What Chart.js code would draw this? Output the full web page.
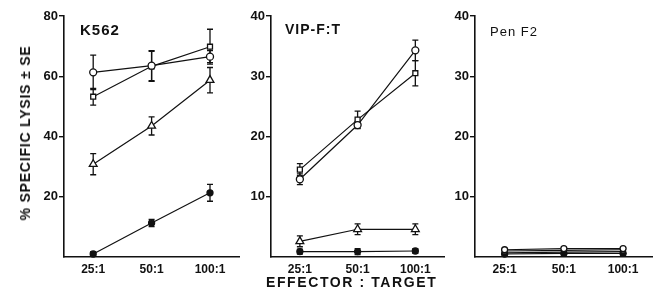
<!DOCTYPE html>
<html>
<head>
<meta charset="utf-8">
<script src="https://cdn.jsdelivr.net/npm/chart.js@4"></script>
<style>
  body { margin: 0; background: #fff; }
  #wrap { position: relative; width: 658px; height: 298px; overflow: hidden; font-family: "Liberation Sans", Arial, sans-serif; color: #111; }
  canvas { position: absolute; top: 0; }
  .lbl { position: absolute; font-weight: bold; white-space: nowrap; }
</style>
</head>
<body>
<div id="wrap">
  <canvas id="c1" width="245" height="298" style="left:0"></canvas>
  <canvas id="c2" width="205" height="298" style="left:245px"></canvas>
  <canvas id="c3" width="208" height="298" style="left:450px"></canvas>
  <div class="lbl" style="left:80px;top:21px;font-size:15px;letter-spacing:1px">K562</div>
  <div class="lbl" style="left:285px;top:21px;font-size:14px;letter-spacing:1px">VIP-F:T</div>
  <div class="lbl" style="left:490px;top:24px;font-size:13px;font-weight:normal;letter-spacing:1px">Pen F2</div>
  <div class="lbl" style="left:266px;top:274px;font-size:14px;letter-spacing:1.6px">EFFECTOR : TARGET</div>
  <div class="lbl" style="left:25px;top:133px;font-size:14px;letter-spacing:0.8px;transform:translate(-50%,-50%) rotate(-90deg)">% SPECIFIC LYSIS ± SE</div>
</div>
<script>
const ratios = ['25:1', '50:1', '100:1'];

// K562
const k562Open = [61.3, 63.5, 66.5];
const k562OpenErr = [5.7, 5, 2];
const k562Square = [53.2, 63.3, 69.8];
const k562SquareErr = [2.8, 5, 5.8];
const k562Tri = [30.8, 43.5, 58.7];
const k562TriErr = [3.5, 3, 4.2];
const k562Filled = [1, 11.3, 21.3];
const k562FilledErr = [0.8, 1.2, 2.8];

// VIP-F:T
const vipOpen = [12.9, 21.9, 34.3];
const vipOpenErr = [0.9, 0.6, 1.7];
const vipSquare = [14.5, 22.8, 30.5];
const vipSquareErr = [1.0, 1.4, 2.1];
const vipTri = [2.6, 4.6, 4.6];
const vipTriErr = [0.9, 0.9, 0.9];
const vipFilled = [0.9, 0.9, 1.0];
const vipFilledErr = [0.4, 0.5, 0.4];

// Pen F2
const penOpen = [1.2, 1.4, 1.4];
const penSquare = [1.0, 1.1, 1.2];
const penTri = [0.7, 0.8, 0.9];
const penFilled = [0.5, 0.6, 0.6];

const ink = '#111';

const errorBars = {
  id: 'errorBars',
  beforeDatasetsDraw(chart) {
    const { ctx, scales: { y } } = chart;
    ctx.save();
    ctx.strokeStyle = ink;
    ctx.lineWidth = 1.3;
    chart.data.datasets.forEach((ds, i) => {
      if (!ds.errors) return;
      const meta = chart.getDatasetMeta(i);
      ds.errors.forEach((e, j) => {
        const px = meta.data[j].x;
        const v = ds.data[j];
        const top = y.getPixelForValue(v + e);
        const bot = y.getPixelForValue(v - e);
        ctx.beginPath();
        ctx.moveTo(px, top); ctx.lineTo(px, bot);
        ctx.moveTo(px - 3, top); ctx.lineTo(px + 3, top);
        ctx.moveTo(px - 3, bot); ctx.lineTo(px + 3, bot);
        ctx.stroke();
      });
    });
    ctx.restore();
  }
};

function series(data, errors, style, filled, r) {
  return {
    data: data,
    errors: errors,
    borderColor: ink,
    borderWidth: 1.2,
    pointStyle: style,
    pointRadius: r || 3.5,
    pointBorderWidth: 1.3,
    pointBorderColor: ink,
    pointBackgroundColor: filled ? ink : '#fff',
    tension: 0,
    clip: false
  };
}

function makeChart(id, max, step, yWidth, padRight, sets) {
  new Chart(document.getElementById(id), {
    type: 'line',
    data: { labels: ratios, datasets: sets },
    options: {
      responsive: false,
      animation: false,
      layout: { padding: { top: 16, right: padRight, bottom: 0, left: 0 } },
      plugins: { legend: { display: false }, tooltip: { enabled: false } },
      scales: {
        x: {
          offset: true,
          grid: { drawOnChartArea: false, drawTicks: false },
          border: { color: ink, width: 1.6 },
          ticks: { color: ink, padding: 5, font: { family: 'Liberation Sans', weight: 'bold', size: 12 } },
          afterFit(s) { s.height = 41; }
        },
        y: {
          min: 0, max: max,
          grid: {
            drawOnChartArea: false, tickLength: 5, lineWidth: 1.4,
            color: ctx => ctx.tick && ctx.tick.value === 0 ? 'rgba(0,0,0,0)' : ink
          },
          border: { color: ink, width: 1.6 },
          ticks: {
            stepSize: step, color: ink, padding: 1,
            font: { family: 'Liberation Sans', weight: 'bold', size: 13 },
            callback: v => v === 0 ? '' : v
          },
          afterFit(s) { s.width = yWidth; }
        }
      }
    },
    plugins: [errorBars]
  });
}

makeChart('c1', 80, 20, 64, 5, [
  series(k562Open, k562OpenErr, 'circle', false),
  series(k562Square, k562SquareErr, 'rect', false),
  series(k562Tri, k562TriErr, 'triangle', false, 4.5),
  series(k562Filled, k562FilledErr, 'circle', true, 3)
]);

makeChart('c2', 40, 10, 26, 3, [
  series(vipOpen, vipOpenErr, 'circle', false),
  series(vipSquare, vipSquareErr, 'rect', false),
  series(vipTri, vipTriErr, 'triangle', false, 4.5),
  series(vipFilled, vipFilledErr, 'circle', true, 3)
]);

makeChart('c3', 40, 10, 25, 5, [
  series(penOpen, null, 'circle', false, 3),
  series(penSquare, null, 'rect', false, 3),
  series(penTri, null, 'triangle', false, 3),
  series(penFilled, null, 'circle', true, 3)
]);
</script>
</body>
</html>
